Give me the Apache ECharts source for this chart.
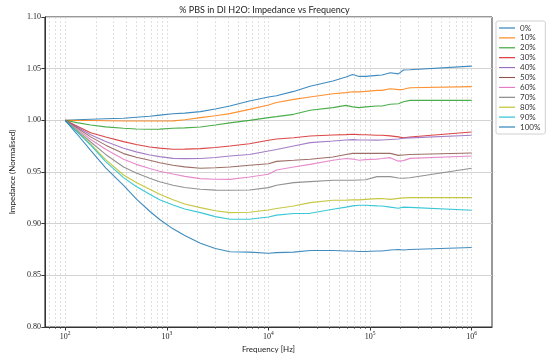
<!DOCTYPE html>
<html><head><meta charset="utf-8">
<script src="https://cdn.jsdelivr.net/npm/echarts@6/dist/echarts.min.js"></script>
<style>html,body{margin:0;padding:0;background:#fff}#c{width:550px;height:359px}</style>
</head><body><div id="c"></div>
<script>
const freq = [100, 130, 178, 250, 375, 500, 678, 850, 1150, 1500, 2140, 3000, 4170, 6500, 10000, 12000, 17700, 25700, 43100, 58000, 67300, 78100, 90500, 117000, 131000, 158000, 190000, 213000, 246000, 1000000];
const pbs0   = [1.000, 1.0005, 1.001, 1.0015, 1.002, 1.003, 1.004, 1.005, 1.0063, 1.007, 1.0084, 1.011, 1.0139, 1.0187, 1.0226, 1.0238, 1.028, 1.033, 1.038, 1.042, 1.0443, 1.0425, 1.0425, 1.0435, 1.0438, 1.046, 1.045, 1.0487, 1.049, 1.0525];
const pbs10  = [1.000, 0.9999, 0.9998, 0.9996, 0.9994, 0.9993, 0.9994, 0.9994, 0.9995, 1.0006, 1.0026, 1.0045, 1.0065, 1.0106, 1.0148, 1.0172, 1.0203, 1.0226, 1.0258, 1.0268, 1.0277, 1.0275, 1.028, 1.029, 1.029, 1.0306, 1.0297, 1.030, 1.0316, 1.0326];
const pbs20  = [1.000, 0.9978, 0.9955, 0.9937, 0.9923, 0.9916, 0.9913, 0.9915, 0.9923, 0.9927, 0.9936, 0.9955, 0.9975, 1.000, 1.0026, 1.0036, 1.0058, 1.0097, 1.0123, 1.0145, 1.013, 1.0123, 1.013, 1.0139, 1.0139, 1.0155, 1.016, 1.018, 1.0193, 1.0193];
const pbs30  = [1.000, 0.9946, 0.988, 0.9838, 0.9794, 0.9766, 0.9742, 0.9731, 0.972, 0.9721, 0.9726, 0.9737, 0.9752, 0.9774, 0.9807, 0.982, 0.9832, 0.9848, 0.9858, 0.9862, 0.9865, 0.9862, 0.986, 0.9855, 0.9855, 0.985, 0.984, 0.9832, 0.9838, 0.9887];
const pbs40  = [1.000, 0.9937, 0.986, 0.9795, 0.9729, 0.9695, 0.9665, 0.9649, 0.9632, 0.9629, 0.963, 0.9641, 0.9655, 0.967, 0.9703, 0.9718, 0.9752, 0.9784, 0.980, 0.981, 0.9813, 0.981, 0.981, 0.9808, 0.981, 0.9815, 0.982, 0.9826, 0.983, 0.9855];
const pbs50  = [1.000, 0.9928, 0.984, 0.976, 0.9678, 0.9643, 0.9613, 0.959, 0.9565, 0.955, 0.9536, 0.9541, 0.9549, 0.9565, 0.958, 0.9603, 0.9613, 0.9623, 0.9645, 0.967, 0.968, 0.968, 0.968, 0.968, 0.968, 0.968, 0.9661, 0.9665, 0.967, 0.9684];
const pbs60  = [1.000, 0.9917, 0.9815, 0.972, 0.9623, 0.9574, 0.9533, 0.9507, 0.948, 0.9458, 0.9436, 0.943, 0.9429, 0.9452, 0.9478, 0.952, 0.9549, 0.9574, 0.9613, 0.963, 0.9625, 0.9613, 0.962, 0.9625, 0.963, 0.9639, 0.9605, 0.961, 0.9632, 0.9655];
const pbs70  = [1.000, 0.9905, 0.979, 0.967, 0.9549, 0.949, 0.9439, 0.9405, 0.9371, 0.935, 0.9333, 0.9325, 0.9323, 0.9326, 0.9349, 0.9372, 0.9397, 0.9407, 0.942, 0.942, 0.942, 0.9423, 0.9425, 0.9455, 0.9455, 0.9455, 0.9442, 0.9439, 0.9445, 0.9536];
const pbs80  = [1.000, 0.9897, 0.977, 0.962, 0.9471, 0.9398, 0.9333, 0.9284, 0.9232, 0.919, 0.9155, 0.9125, 0.9107, 0.911, 0.9133, 0.9147, 0.9171, 0.9204, 0.9226, 0.9228, 0.923, 0.923, 0.9235, 0.9242, 0.9244, 0.9235, 0.9245, 0.925, 0.9252, 0.9252];
const pbs90  = [1.000, 0.9892, 0.976, 0.960, 0.9446, 0.936, 0.9284, 0.9232, 0.918, 0.9142, 0.9107, 0.9068, 0.9043, 0.9043, 0.9065, 0.9083, 0.9098, 0.910, 0.9139, 0.916, 0.9172, 0.9178, 0.9178, 0.9172, 0.9171, 0.916, 0.9149, 0.916, 0.9158, 0.913];
const pbs100 = [1.000, 0.987, 0.971, 0.954, 0.937, 0.924, 0.912, 0.904, 0.895, 0.8885, 0.881, 0.876, 0.8728, 0.8725, 0.8714, 0.872, 0.8725, 0.874, 0.874, 0.8735, 0.8735, 0.873, 0.873, 0.8736, 0.8735, 0.8745, 0.875, 0.8745, 0.875, 0.877];

const seriesNames = ['0%', '10%', '20%', '30%', '40%', '50%', '60%', '70%', '80%', '90%', '100%'];
const seriesValues = [pbs0, pbs10, pbs20, pbs30, pbs40, pbs50, pbs60, pbs70, pbs80, pbs90, pbs100];
const colors = ['#1f77b4', '#ff7f0e', '#2ca02c', '#d62728', '#9467bd', '#8c564b', '#e377c2', '#7f7f7f', '#bcbd22', '#17becf', '#1f77b4'];

const xMajorTicks = [100, 1000, 10000, 100000, 1000000];
const xMinorTicks = [70, 80, 90, 200, 300, 400, 500, 600, 700, 800, 900, 2000, 3000, 4000, 5000, 6000, 7000, 8000, 9000,
  20000, 30000, 40000, 50000, 60000, 70000, 80000, 90000, 200000, 300000, 400000, 500000, 600000, 700000, 800000, 900000];
const yMin = 0.80, yMax = 1.10, yStep = 0.05;

const titleText = '% PBS in DI H2O: Impedance vs Frequency';
const xName = 'Frequency [Hz]';
const yName = 'Impedance (Normalised)';

const serifFont = 'Liberation Serif';
const sansFont = 'Lato';

const chart = echarts.init(document.getElementById('c'), null, {renderer: 'canvas'});

const xMin = Math.pow(10, 1.8), xMax = Math.pow(10, 6.2);
const gridL = 37, gridT = 17, gridW = 455, gridH = 310;

const series = seriesNames.map((name, i) => ({
  name: name,
  type: 'line',
  xAxisIndex: 0,
  yAxisIndex: 0,
  data: freq.map((f, j) => [f, seriesValues[i][j]]),
  showSymbol: false,
  symbol: 'none',
  lineStyle: {width: 1.1, color: colors[i], opacity: 0.85},
  itemStyle: {color: colors[i]},
  animation: false,
  z: 3
}));

chart.setOption({
  animation: false,
  backgroundColor: '#fff',
  graphic: [{
    type: 'text',
    x: gridL + gridW / 2,
    y: 10,
    style: {text: titleText, fontFamily: sansFont, fontSize: 9, fill: '#222', align: 'center', verticalAlign: 'middle'}
  }],
  grid: {left: gridL, top: gridT, width: gridW, height: gridH, show: true, borderColor: '#333', borderWidth: 1, backgroundColor: 'transparent'},
  legend: {
    orient: 'vertical',
    left: 496, top: 21,
    itemWidth: 16, itemHeight: 10, itemGap: 1.9,
    padding: [3, 5, 3, 3],
    borderColor: '#d0d0d0', borderWidth: 1, borderRadius: 2,
    backgroundColor: 'rgba(255,255,255,0.8)',
    icon: 'path://M0,4.5 L16,4.5 L16,5.6 L0,5.6 Z',
    textStyle: {fontFamily: sansFont, fontSize: 8, color: '#333'},
    data: seriesNames
  },
  xAxis: [{
    type: 'log', logBase: 10, min: xMin, max: xMax,
    name: xName, nameLocation: 'middle', nameGap: 16,
    nameTextStyle: {fontFamily: sansFont, fontSize: 8, color: '#222'},
    axisLine: {show: true, onZero: false, lineStyle: {color: '#333', width: 1}},
    axisTick: {show: true, customValues: xMajorTicks, length: 3.5, lineStyle: {color: '#333'}},
    axisLabel: {
      customValues: xMajorTicks, margin: 4,
      formatter: v => '{b|10}{s|' + Math.round(Math.log10(v)) + '}',
      rich: {
        b: {fontFamily: serifFont, fontSize: 8, color: '#222', lineHeight: 11},
        s: {fontFamily: serifFont, fontSize: 5.5, color: '#222', verticalAlign: 'top', lineHeight: 11}
      }
    },
    splitLine: {show: true, lineStyle: {color: '#d8d8d8', width: 0.8, type: [2, 2]}}
  }, {
    type: 'log', logBase: 10, min: xMin, max: xMax, position: 'bottom',
    axisLine: {show: false},
    axisTick: {show: true, customValues: xMinorTicks, length: 2, lineStyle: {color: '#333', width: 0.6}},
    axisLabel: {show: false},
    splitLine: {show: true, lineStyle: {color: '#d8d8d8', width: 0.8, type: [2, 2]}}
  }],
  yAxis: {
    type: 'value', min: yMin, max: yMax, interval: yStep,
    name: yName, nameLocation: 'middle', nameGap: 25, nameRotate: 90,
    nameTextStyle: {fontFamily: sansFont, fontSize: 8, color: '#222'},
    axisLine: {show: true, lineStyle: {color: '#333', width: 1}},
    axisTick: {show: true, length: 3.5, lineStyle: {color: '#333'}},
    axisLabel: {fontFamily: serifFont, fontSize: 8, color: '#222', margin: 4, formatter: v => v.toFixed(2)},
    splitLine: {show: true, lineStyle: {color: '#d4d4d4', width: 1}}
  },
  series: series
});
</script></body></html>
